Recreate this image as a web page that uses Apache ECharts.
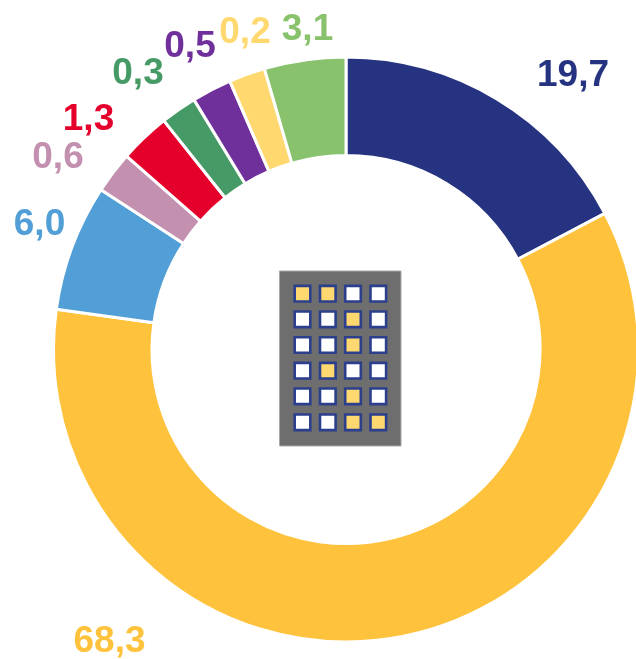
<!DOCTYPE html>
<html>
<head>
<meta charset="utf-8">
<style>
  html, body { margin: 0; padding: 0; background: #fff; }
  #chart { width: 636px; height: 659px; }
</style>
<script src="https://cdn.jsdelivr.net/npm/echarts@6/dist/echarts.min.js"></script>
</head>
<body>
<div id="chart"></div>
<script>
// printed labels, clockwise from 12 o'clock
const valueLabels = ['19,7', '68,3', '6,0', '0,6', '1,3', '0,3', '0,5', '0,2', '3,1']
// slice sizes as drawn in the picture (small slices are not to scale with their labels)
const sliceSizes = [17.3, 59.9, 7.0, 2.3, 2.8, 2.0, 2.2, 2.0, 4.5]
const sliceColors = ['#263381', '#FFC23C', '#529FD7', '#C490B0', '#E4002B', '#469A66', '#70309C', '#FFD970', '#88C26C']

// 1 = lit window in the building icon
const windowRows = [
  [1, 1, 0, 0],
  [0, 0, 1, 0],
  [0, 0, 1, 0],
  [0, 1, 0, 0],
  [0, 0, 1, 0],
  [0, 0, 1, 1]
]

const labelCenters = [[573, 76], [109.5, 642], [39.5, 225], [58, 158], [88.5, 119.5], [138, 73.5], [190, 47], [245, 33], [307.5, 29.5]]
const windowX = [302.5, 327.8, 353, 378.3]
const windowY = [293.7, 319.3, 345, 370.7, 396.3, 422.3]

const chart = echarts.init(document.getElementById('chart'), null, { renderer: 'canvas' })

const iconElements = [{
  type: 'rect',
  shape: { x: 279.5, y: 271, width: 121.5, height: 175 },
  style: { fill: '#6E6E6E', stroke: '#A8A8A8', lineWidth: 1 }
}]
windowRows.forEach((row, r) => {
  row.forEach((lit, c) => {
    iconElements.push({
      type: 'rect',
      shape: { x: windowX[c] - 7.8, y: windowY[r] - 7.8, width: 15.6, height: 15.6 },
      style: { fill: lit ? '#FFD970' : '#FFFFFF', stroke: '#2B3F8C', lineWidth: 2.6 }
    })
  })
})

chart.setOption({
  animation: false,
  backgroundColor: '#fff',
  series: [{
    type: 'pie',
    center: [346, 349.5],
    radius: [194, 292.5],
    startAngle: 90,
    clockwise: true,
    silent: true,
    avoidLabelOverlap: false,
    itemStyle: { borderColor: '#fff', borderWidth: 3 },
    labelLine: { show: false },
    label: {
      show: true,
      position: 'outside',
      fontFamily: 'Liberation Sans',
      fontWeight: 'bold',
      fontSize: 37,
      align: 'center',
      verticalAlign: 'middle',
      formatter: (p) => valueLabels[p.dataIndex]
    },
    labelLayout: (p) => ({
      x: labelCenters[p.dataIndex][0],
      y: labelCenters[p.dataIndex][1],
      align: 'center',
      verticalAlign: 'middle'
    }),
    data: sliceSizes.map((v, i) => ({
      value: v,
      itemStyle: { color: sliceColors[i] },
      label: { color: sliceColors[i] }
    }))
  }],
  graphic: { elements: iconElements }
})
</script>
</body>
</html>
